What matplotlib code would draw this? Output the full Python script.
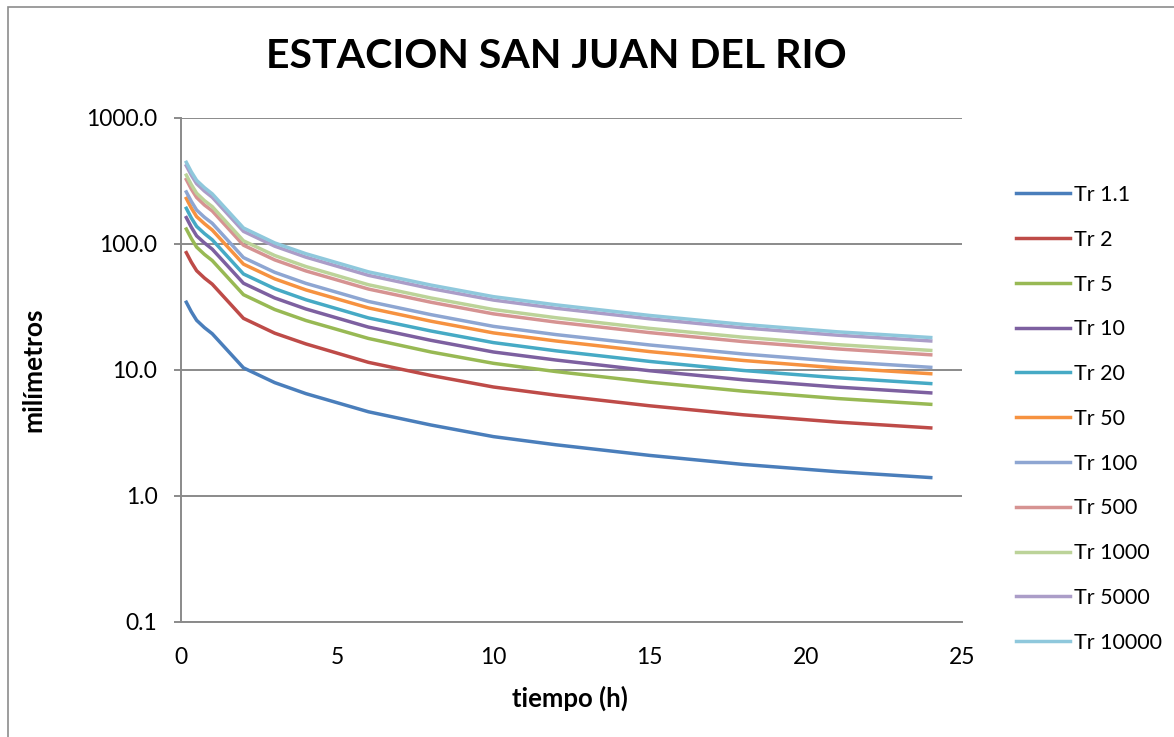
import matplotlib
matplotlib.use("Agg")
import matplotlib.pyplot as plt
from matplotlib.ticker import FixedLocator, FixedFormatter, NullLocator
from matplotlib.patches import Rectangle

plt.rcParams['font.family'] = ['Lato', 'DejaVu Sans']

# duration (h)
tiempo = [0.17, 0.33, 0.5, 0.75, 1, 2, 3, 4, 6, 8, 10, 12, 15, 18, 21, 24]

tr_1_1   = [34.5, 29.0, 24.8, 21.7, 19.4, 10.4, 7.94, 6.49, 4.66, 3.66, 2.96, 2.55, 2.10, 1.78, 1.56, 1.40]
tr_2     = [85.4, 71.8, 61.4, 53.7, 48.0, 25.7, 19.6, 16.1, 11.5, 9.05, 7.33, 6.31, 5.20, 4.41, 3.86, 3.47]
tr_5     = [131.5, 110.6, 94.5, 82.7, 73.9, 39.6, 30.2, 24.7, 17.8, 13.9, 11.3, 9.72, 8.01, 6.79, 5.94, 5.34]
tr_10    = [162, 136, 116, 102, 91.0, 48.8, 37.3, 30.5, 21.9, 17.2, 13.9, 12.0, 9.87, 8.36, 7.32, 6.58]
tr_20    = [192, 161, 138, 121, 108, 57.8, 44.2, 36.1, 25.9, 20.4, 16.5, 14.2, 11.7, 9.91, 8.68, 7.80]
tr_50    = [230, 193, 165, 145, 129, 69.2, 52.9, 43.2, 31.1, 24.4, 19.7, 17.0, 14.0, 11.9, 10.4, 9.34]
tr_100   = [259, 218, 186, 163, 146, 78.0, 59.6, 48.7, 35.0, 27.5, 22.2, 19.1, 15.8, 13.4, 11.7, 10.5]
tr_500   = [325, 273, 234, 204, 183, 97.8, 74.8, 61.1, 43.9, 34.5, 27.9, 24.0, 19.8, 16.8, 14.7, 13.2]
tr_1000  = [352, 296, 253, 221, 198, 106, 81.0, 66.2, 47.5, 37.3, 30.2, 26.0, 21.4, 18.2, 15.9, 14.3]
tr_5000  = [418, 352, 301, 263, 235, 126, 96.1, 78.6, 56.4, 44.3, 35.9, 30.9, 25.5, 21.6, 18.9, 17.0]
tr_10000 = [445, 374, 320, 280, 250, 134, 102, 83.7, 60.1, 47.2, 38.2, 32.9, 27.1, 23.0, 20.1, 18.1]

labels = ["Tr 1.1", "Tr 2", "Tr 5", "Tr 10", "Tr 20", "Tr 50", "Tr 100",
          "Tr 500", "Tr 1000", "Tr 5000", "Tr 10000"]
series = [tr_1_1, tr_2, tr_5, tr_10, tr_20, tr_50, tr_100, tr_500, tr_1000, tr_5000, tr_10000]
colors = ["#4A7EBB", "#BE4B48", "#98B954", "#7D60A0", "#46AAC5", "#F69240",
          "#8EA6D2", "#D69392", "#BCD399", "#AB9DC8", "#8FC8DC"]

y_ticks = [0.1, 1, 10, 100, 1000]
y_tick_labels = ["0.1", "1.0", "10.0", "100.0", "1000.0"]
x_ticks = [0, 5, 10, 15, 20, 25]

W, H = 1174, 737
fig = plt.figure(figsize=(W / 100, H / 100), dpi=100)
fig.patch.set_facecolor("white")

# outer chart border
fig.patches.append(Rectangle((8 / W, -0.05), 1.2, 1 - 7 / H + 0.05, transform=fig.transFigure,
                             fill=False, edgecolor="#8C8C8C", linewidth=1.2))

left, right, top, bottom = 181, 962, 118, 622
ax = fig.add_axes([left / W, 1 - bottom / H, (right - left) / W, (bottom - top) / H])

for vals, lab, col in zip(series, labels, colors):
    ax.plot(tiempo, vals, color=col, lw=2.5, label=lab, solid_joinstyle="round")

ax.set_yscale("log")
ax.set_ylim(0.1, 1000)
ax.set_xlim(0, 25)
ax.yaxis.set_major_locator(FixedLocator(y_ticks))
ax.yaxis.set_major_formatter(FixedFormatter(y_tick_labels))
ax.yaxis.set_minor_locator(NullLocator())
ax.set_xticks(x_ticks)
ax.set_xticklabels([str(v) for v in x_ticks])

ax.grid(axis="y", color="#8A8A8A", lw=1.4)
ax.set_axisbelow(True)
for s in ["top", "right"]:
    ax.spines[s].set_visible(False)
for s in ["left", "bottom"]:
    ax.spines[s].set_color("#8A8A8A")
    ax.spines[s].set_linewidth(1.4)
ax.tick_params(axis="y", length=5, width=1.4, color="#8A8A8A", labelsize=16.5, pad=12)
ax.tick_params(axis="x", length=0, labelsize=16.5, pad=18)

ax.set_xlabel("tiempo (h)", fontsize=18.5, fontweight="bold")
ax.set_ylabel("milímetros", fontsize=19, fontweight="bold")
ax.xaxis.set_label_coords((570 - left) / (right - left), -(686 - bottom) / (bottom - top))
ax.yaxis.set_label_coords(-(181 - 45) / (right - left), 0.5)

fig.text(556 / W, 1 - 56 / H, "ESTACION SAN JUAN DEL RIO", ha="center", va="center",
         fontsize=29.5, fontweight="bold")

leg = fig.legend(loc="upper left", bbox_to_anchor=(1016 / W, 1 - 185 / H), frameon=False,
                 fontsize=15.5, handlelength=2.5, handletextpad=0.2, labelspacing=1.15,
                 borderaxespad=0, borderpad=0)

fig.savefig("out.png", dpi=100)
